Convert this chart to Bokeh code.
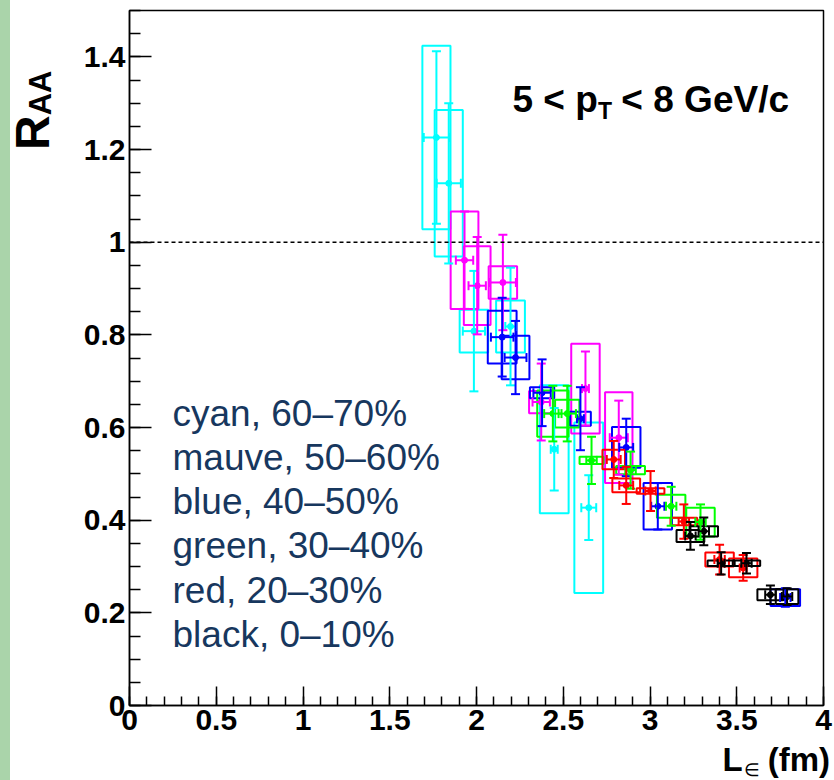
import numpy as np
from bokeh.plotting import figure
from bokeh.models import (ColumnDataSource, Whisker, TeeHead, Span, Label,
                          FixedTicker, CustomJSTickFormatter, Range1d, Div)
from bokeh.layouts import row, column
from bokeh.embed import file_html
from bokeh.resources import INLINE

# ---------------- data ----------------
# each series: L (fm), R_AA, stat err y, stat err x, sys half-width x, sys half-height y
cyan_x   = [1.769, 1.840, 1.985, 2.196, 2.448, 2.647]
cyan_y   = [1.226, 1.127, 0.808, 0.818, 0.553, 0.427]
cyan_ey  = [0.186, 0.173, 0.130, 0.127, 0.089, 0.070]
cyan_ex  = [0.073, 0.070, 0.064, 0.030, 0.020, 0.043]
cyan_bx  = [0.081, 0.081, 0.082, 0.083, 0.083, 0.083]
cyan_by  = [0.198, 0.158, 0.046, 0.056, 0.138, 0.184]

mauve_x  = [1.931, 2.004, 2.152, 2.373, 2.628, 2.820]
mauve_y  = [0.961, 0.906, 0.913, 0.655, 0.684, 0.578]
mauve_ey = [0.105, 0.105, 0.103, 0.083, 0.080, 0.080]
mauve_ex = [0.050, 0.050, 0.075, 0.050, 0.020, 0.052]
mauve_bx = [0.080, 0.077, 0.082, 0.070, 0.082, 0.079]
mauve_by = [0.105, 0.085, 0.035, 0.024, 0.097, 0.098]

blue_x   = [2.148, 2.225, 2.378, 2.599, 2.863, 3.045, 3.780]
blue_y   = [0.795, 0.751, 0.675, 0.619, 0.557, 0.430, 0.233]
blue_ey  = [0.085, 0.079, 0.072, 0.068, 0.062, 0.050, 0.020]
blue_ex  = [0.065, 0.063, 0.050, 0.020, 0.040, 0.038, 0.030]
blue_bx  = [0.083, 0.080, 0.070, 0.060, 0.082, 0.082, 0.085]
blue_by  = [0.057, 0.047, 0.012, 0.015, 0.044, 0.050, 0.018]

green_x  = [2.440, 2.523, 2.663, 2.888, 3.122, 3.291]
green_y  = [0.630, 0.630, 0.529, 0.508, 0.430, 0.396]
green_ey = [0.060, 0.060, 0.051, 0.040, 0.042, 0.038]
green_ex = [0.050, 0.050, 0.030, 0.030, 0.030, 0.030]
green_bx = [0.090, 0.070, 0.069, 0.083, 0.082, 0.082]
green_by = [0.050, 0.030, 0.008, 0.009, 0.025, 0.031]

red_x    = [2.791, 2.863, 3.003, 3.195, 3.401, 3.537]
red_y    = [0.531, 0.475, 0.463, 0.397, 0.315, 0.297]
red_ey   = [0.040, 0.040, 0.043, 0.037, 0.032, 0.028]
red_ex   = [0.040, 0.040, 0.030, 0.030, 0.030, 0.020]
red_bx   = [0.065, 0.080, 0.080, 0.077, 0.082, 0.082]
red_by   = [0.021, 0.015, 0.006, 0.008, 0.015, 0.020]

black_x  = [3.233, 3.310, 3.410, 3.556, 3.694, 3.790]
black_y  = [0.366, 0.376, 0.307, 0.307, 0.239, 0.235]
black_ey = [0.030, 0.030, 0.024, 0.022, 0.020, 0.018]
black_ex = [0.030, 0.030, 0.020, 0.030, 0.030, 0.030]
black_bx = [0.080, 0.082, 0.078, 0.079, 0.075, 0.065]
black_by = [0.013, 0.011, 0.006, 0.006, 0.012, 0.016]

legend_labels = ["cyan, 60\u201370%", "mauve, 50\u201360%", "blue, 40\u201350%",
                 "green, 30\u201340%", "red, 20\u201330%", "black, 0\u201310%"]

x_ticks = [0, 0.5, 1, 1.5, 2, 2.5, 3, 3.5, 4]
y_ticks = [0, 0.2, 0.4, 0.6, 0.8, 1.0, 1.2, 1.4]
reference_line = 1.0

series = [
    ("#00ffff", cyan_x, cyan_y, cyan_ey, cyan_ex, cyan_bx, cyan_by),
    ("#ff00ff", mauve_x, mauve_y, mauve_ey, mauve_ex, mauve_bx, mauve_by),
    ("#0000ff", blue_x, blue_y, blue_ey, blue_ex, blue_bx, blue_by),
    ("#00ff00", green_x, green_y, green_ey, green_ex, green_bx, green_by),
    ("#ff0000", red_x, red_y, red_ey, red_ex, red_bx, red_by),
    ("#000000", black_x, black_y, black_ey, black_ex, black_bx, black_by),
]

STRIP = "#aad4aa"
FONT = "Liberation Sans"

# ---------------- main figure ----------------
p = figure(width=765, height=745, x_range=Range1d(0, 4), y_range=Range1d(0, 1.5),
           output_backend="svg", toolbar_location=None, margin=0,
           min_border_left=60, min_border_right=11, min_border_top=10, min_border_bottom=40)
p.xgrid.visible = False
p.ygrid.visible = False
p.background_fill_color = "white"
p.border_fill_color = "white"
p.outline_line_color = "black"
p.outline_line_width = 1.5

fmt = CustomJSTickFormatter(code="return String(Number(tick.toFixed(2)));")
p.xaxis.ticker = FixedTicker(ticks=x_ticks, minor_ticks=list(np.round(np.arange(0, 4.001, 0.1), 3)))
p.yaxis.ticker = FixedTicker(ticks=y_ticks, minor_ticks=list(np.round(np.arange(0, 1.501, 0.05), 3)))
for ax in (p.xaxis[0], p.yaxis[0]):
    ax.formatter = fmt
    ax.major_tick_out = 0
    ax.minor_tick_out = 0
    ax.axis_line_color = "black"
    ax.axis_line_width = 1.5
    ax.major_tick_line_color = "black"
    ax.minor_tick_line_color = "black"
    ax.major_tick_line_width = 1.5
    ax.minor_tick_line_width = 1.5
    ax.major_label_text_font = FONT
    ax.major_label_text_font_style = "bold"
    ax.major_label_text_font_size = "30px"
    ax.major_label_text_color = "black"
p.xaxis.major_tick_in = 19
p.xaxis.minor_tick_in = 9
p.yaxis.major_tick_in = 22
p.yaxis.minor_tick_in = 11
p.xaxis.major_label_standoff = 4
p.yaxis.major_label_standoff = 4

p.add_layout(Span(location=reference_line, dimension="width", line_color="black",
                  line_width=1.5, line_dash="4 3"))

for color, xs, ys, eys, exs, bxs, bys in series:
    x = np.array(xs); y = np.array(ys)
    src = ColumnDataSource(dict(
        x=x, y=y,
        left=x - np.array(bxs), right=x + np.array(bxs),
        bottom=y - np.array(bys), top=y + np.array(bys),
        yl=y - np.array(eys), yu=y + np.array(eys),
        xl=x - np.array(exs), xu=x + np.array(exs),
    ))
    p.quad(left="left", right="right", bottom="bottom", top="top", source=src,
           fill_color=None, line_color=color, line_width=2)
    p.add_layout(Whisker(source=src, base="x", lower="yl", upper="yu", dimension="height",
                         line_color=color, line_width=2, level="glyph",
                         lower_head=TeeHead(size=9, line_color=color, line_width=2),
                         upper_head=TeeHead(size=9, line_color=color, line_width=2)))
    p.add_layout(Whisker(source=src, base="y", lower="xl", upper="xu", dimension="width",
                         line_color=color, line_width=2, level="glyph",
                         lower_head=TeeHead(size=9, line_color=color, line_width=2),
                         upper_head=TeeHead(size=9, line_color=color, line_width=2)))
    p.scatter(x="x", y="y", source=src, size=6, color=color)

# legend-like text block
for i, txt in enumerate(legend_labels):
    p.add_layout(Label(x=0.248, y=0.631 - 0.0955 * i, text=txt, text_baseline="middle",
                       text_align="left", text_font=FONT, text_font_size="37px",
                       text_color="#17375e"))

# pT annotation
p.add_layout(Label(x=2.207, y=1.307, text="5 < p", text_font=FONT, text_font_style="bold",
                   text_font_size="37px", text_color="black", text_baseline="alphabetic"))
p.add_layout(Label(x=2.700, y=1.284, text="T", text_font=FONT, text_font_style="bold",
                   text_font_size="23px", text_color="black", text_baseline="alphabetic"))
p.add_layout(Label(x=2.835, y=1.307, text="< 8 GeV/c", text_font=FONT, text_font_style="bold",
                   text_font_size="37px", text_color="black", text_align="left",
                   text_baseline="alphabetic"))

# ---------------- left strip with the y title ----------------
left_html = (
    '<div style="position:relative;width:69px;height:745px;overflow:visible;">'
    f'<div style="position:absolute;left:0;top:0;width:10px;height:745px;background:{STRIP};"></div>'
    '<div style="position:absolute;left:9px;top:150px;transform-origin:0 0;'
    "transform:rotate(-90deg);white-space:nowrap;line-height:1;"
    f"font-family:'{FONT}';font-weight:bold;font-size:48px;color:black;\">"
    'R<span style="font-size:31px;position:relative;top:2px;">AA</span></div>'
    '</div>'
)
left_div = Div(text=left_html, width=69, height=745, margin=0)

# ---------------- bottom strip with the x title ----------------
bottom_html = (
    '<div style="position:relative;width:834px;height:35px;overflow:visible;">'
    f'<div style="position:absolute;left:0;top:0;width:10px;height:35px;background:{STRIP};"></div>'
    '<div style="position:absolute;right:4px;top:-2px;white-space:nowrap;line-height:1;'
    f"font-family:'{FONT}';font-weight:bold;font-size:33px;color:black;\">"
    'L<span style="font-size:18px;font-weight:normal;position:relative;top:5px;margin-left:1px;">\u2208</span>'
    '<span style="margin-left:8px;">(fm)</span></div>'
    '</div>'
)
bottom_div = Div(text=bottom_html, width=834, height=35, margin=0)

layout = column(row(left_div, p, spacing=0, margin=0), bottom_div, spacing=0, margin=0)

open("out.html", "w").write(file_html(layout, INLINE))
